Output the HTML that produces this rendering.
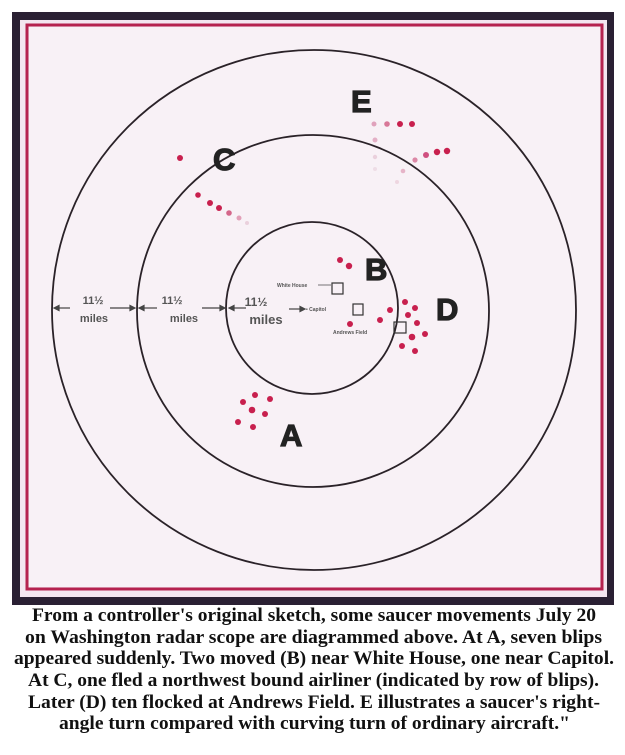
<!DOCTYPE html>
<html><head><meta charset="utf-8"><style>
html,body{margin:0;padding:0;background:#fff;width:625px;height:755px;overflow:hidden}
svg{display:block}
</style></head><body>
<svg width="625" height="755" viewBox="0 0 625 755" xmlns="http://www.w3.org/2000/svg">
<rect x="0" y="0" width="625" height="755" fill="#fff"/>
<rect x="12" y="12" width="602" height="593" fill="#2a2033"/>
<rect x="20" y="20" width="587" height="577" fill="#f3e6f0"/>
<rect x="27" y="25" width="575" height="564" fill="none" stroke="#b5224f" stroke-width="3"/>
<rect x="29" y="27" width="571" height="560" fill="#f8f1f6"/>
<g fill="none" stroke="#2a2228" stroke-width="1.8">
<ellipse cx="314" cy="310" rx="262" ry="260"/>
<ellipse cx="313" cy="311" rx="176" ry="176"/>
<ellipse cx="312" cy="308" rx="86" ry="86"/>
</g>
<g font-family="Liberation Sans, sans-serif" font-weight="bold" fill="#555" text-anchor="middle">
<text x="93" y="304" font-size="11">11½</text>
<text x="94" y="322" font-size="11">miles</text>
<text x="172" y="304" font-size="11">11½</text>
<text x="184" y="322" font-size="11">miles</text>
<text x="256" y="306" font-size="12">11½</text>
<text x="266" y="324" font-size="13">miles</text>
</g>
<g stroke="#444" stroke-width="1.2" fill="#444">
<line x1="56" y1="308" x2="70" y2="308"/><polygon points="54,308 59,305.5 59,310.5"/>
<line x1="110" y1="308" x2="132" y2="308"/><polygon points="135,308 130,305.5 130,310.5"/>
<line x1="141" y1="308" x2="157" y2="308"/><polygon points="139,308 144,305.5 144,310.5"/>
<line x1="202" y1="308" x2="222" y2="308"/><polygon points="225,308 220,305.5 220,310.5"/>
<line x1="231" y1="308" x2="246" y2="308"/><polygon points="229,308 234,305.5 234,310.5"/>
<line x1="289" y1="309" x2="302" y2="309"/><polygon points="305,309 300,306.5 300,311.5"/>
</g>
<g fill="none" stroke="#333" stroke-width="1.2">
<rect x="332" y="283" width="11" height="11"/>
<rect x="353" y="304" width="10" height="11"/>
<rect x="394" y="322" width="12" height="11"/>
</g>
<g font-family="Liberation Sans, sans-serif" font-weight="bold" fill="#555" font-size="5">
<text x="277" y="287">White House</text>
<text x="306" y="311">• Capitol</text>
<text x="333" y="334">Andrews Field</text>
</g>
<line x1="318" y1="285" x2="331" y2="285" stroke="#555" stroke-width="0.8"/>
<g font-family="Liberation Sans, sans-serif" font-weight="bold" fill="#222" stroke="#222" stroke-width="1.2" font-size="31">
<text x="351" y="112">E</text>
<text x="213" y="170">C</text>
<text x="365" y="280">B</text>
<text x="436" y="320">D</text>
<text x="280" y="446">A</text>
</g>
<g fill="#c8204e">
<circle cx="180" cy="158" r="3"/>
<circle cx="198" cy="195" r="2.8"/><circle cx="210" cy="203" r="3"/><circle cx="219" cy="208" r="3"/>
<circle cx="229" cy="213" r="2.8" fill="#d4668a"/><circle cx="239" cy="218" r="2.5" fill="#e2a0b8"/><circle cx="247" cy="223" r="2" fill="#ead0dc"/>
<circle cx="374" cy="124" r="2.5" fill="#e0a2bc"/><circle cx="387" cy="124" r="2.8" fill="#d87898"/><circle cx="400" cy="124" r="3" /><circle cx="412" cy="124" r="3"/>
<circle cx="375" cy="140" r="2.5" fill="#e4b0c6"/><circle cx="375" cy="157" r="2.2" fill="#ead0dc"/><circle cx="375" cy="169" r="2" fill="#eedde6"/>
<circle cx="447" cy="151" r="3.2"/><circle cx="437" cy="152" r="3.2"/><circle cx="426" cy="155" r="3" fill="#d05080"/>
<circle cx="415" cy="160" r="2.6" fill="#dc88a6"/><circle cx="403" cy="171" r="2.3" fill="#e6b4c8"/><circle cx="397" cy="182" r="2" fill="#eed6e0"/>
<circle cx="340" cy="260" r="3"/><circle cx="349" cy="266" r="3.2"/>
<circle cx="405" cy="302" r="3"/><circle cx="390" cy="310" r="3"/><circle cx="415" cy="308" r="3"/><circle cx="408" cy="315" r="3"/>
<circle cx="380" cy="320" r="3"/><circle cx="417" cy="323" r="3"/><circle cx="350" cy="324" r="3"/><circle cx="425" cy="334" r="3"/>
<circle cx="412" cy="337" r="3.3"/><circle cx="402" cy="346" r="3"/><circle cx="415" cy="351" r="3"/>
<circle cx="255" cy="395" r="3"/><circle cx="270" cy="399" r="3"/><circle cx="243" cy="402" r="3"/><circle cx="252" cy="410" r="3.3"/>
<circle cx="265" cy="414" r="3"/><circle cx="238" cy="422" r="3"/><circle cx="253" cy="427" r="3"/>
</g>
<g font-family="Liberation Serif, serif" font-weight="bold" font-size="19" fill="#111">
<text x="32" y="621" textLength="564" lengthAdjust="spacingAndGlyphs">From a controller's original sketch, some saucer movements July 20</text>
<text x="25" y="643" textLength="577" lengthAdjust="spacingAndGlyphs">on Washington radar scope are diagrammed above.  At A, seven blips</text>
<text x="14" y="664" textLength="600" lengthAdjust="spacingAndGlyphs">appeared suddenly. Two moved (B) near White House, one near Capitol.</text>
<text x="28" y="686" textLength="571" lengthAdjust="spacingAndGlyphs">At C, one fled a northwest bound airliner (indicated by row of blips).</text>
<text x="28" y="708" textLength="572" lengthAdjust="spacingAndGlyphs">Later (D) ten flocked at Andrews Field. E illustrates a saucer's right-</text>
<text x="59" y="729" textLength="511" lengthAdjust="spacingAndGlyphs">angle turn compared with curving turn of ordinary aircraft."</text>
</g>
</svg>
</body></html>
